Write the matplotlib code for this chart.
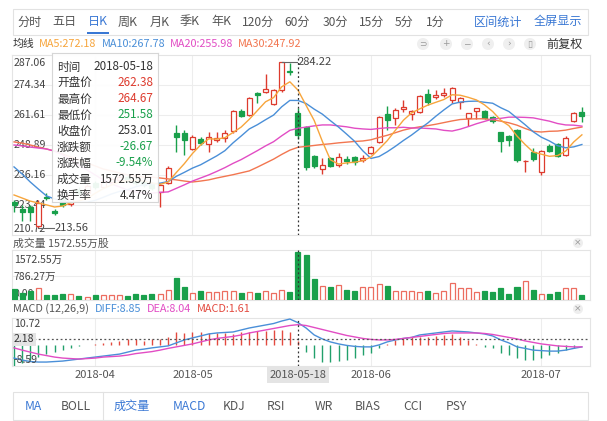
import matplotlib
matplotlib.use('Agg')
import matplotlib.pyplot as plt
from matplotlib.patches import Rectangle, Circle
import numpy as np

plt.rcParams['font.family'] = ['Noto Sans CJK SC', 'DejaVu Sans']

# 日K 数据
open_ = np.array([224.7, 221.8, 222.6, 214.5, 226.8, 220.9, 226.0, 223.8, 230.0, 228.6,
                  232.8, 231.0, 233.0, 234.0, 235.5, 234.2, 233.2, 232.5, 229.0, 232.8,
                  254.0, 254.0, 247.2, 251.4, 249.3, 251.0, 251.9, 254.8, 263.3, 261.6,
                  270.9, 271.4, 266.3, 272.2, 280.4, 262.38, 256.5, 244.2, 238.7, 243.4,
                  240.4, 243.0, 243.8, 242.5, 245.5, 250.2, 262.0, 260.3, 264.2, 262.0,
                  262.9, 270.5, 269.3, 270.1, 268.0, 267.1, 260.3, 263.3, 263.3, 260.8,
                  254.4, 252.7, 255.3, 241.9, 245.9, 237.4, 248.5, 249.3, 244.7, 259.1,
                  262.9])
high = np.array([225.6, 223.4, 223.4, 225.6, 228.5, 221.8, 227.0, 228.5, 231.2, 232.5,
                 233.5, 234.2, 235.5, 236.0, 236.3, 235.0, 234.0, 233.2, 232.8, 240.0,
                 257.4, 255.3, 253.1, 252.3, 254.4, 254.4, 255.3, 263.7, 264.2, 269.2,
                 271.4, 279.0, 272.6, 284.22, 283.7, 264.67, 256.8, 244.7, 243.4, 243.8,
                 245.5, 244.2, 244.2, 244.7, 248.5, 261.2, 265.4, 264.6, 268.0, 263.7,
                 270.1, 272.6, 272.2, 273.1, 273.5, 269.2, 262.5, 264.6, 263.7, 261.2,
                 254.4, 253.1, 255.7, 242.5, 247.6, 246.8, 249.3, 249.7, 252.7, 262.9,
                 265.0])
low = np.array([220.5, 216.7, 216.7, 213.56, 225.6, 219.2, 222.5, 223.0, 227.5, 228.0,
                230.3, 230.5, 232.4, 233.2, 233.0, 232.0, 231.0, 229.6, 222.6, 232.4,
                245.9, 244.7, 246.8, 248.9, 245.9, 250.2, 250.2, 254.0, 260.8, 261.2,
                266.7, 270.9, 265.9, 271.4, 278.6, 251.58, 238.3, 239.1, 236.6, 239.6,
                239.6, 240.8, 240.4, 241.7, 245.1, 249.7, 255.3, 257.4, 262.9, 259.5,
                262.5, 265.9, 268.4, 269.3, 266.7, 264.2, 257.0, 259.9, 259.9, 258.2,
                245.9, 248.5, 241.7, 237.4, 242.1, 236.2, 245.9, 243.8, 244.2, 258.7,
                258.7])
close_ = np.array([223.4, 220.5, 220.5, 224.3, 226.4, 220.1, 223.5, 227.5, 228.5, 231.5,
                   231.2, 233.5, 234.6, 235.2, 233.8, 232.6, 232.0, 230.5, 231.9, 239.1,
                   252.3, 251.0, 252.3, 249.7, 252.3, 251.9, 254.0, 263.3, 261.2, 268.8,
                   270.1, 272.6, 272.2, 284.1, 279.68, 253.01, 239.6, 240.0, 240.4, 240.0,
                   243.8, 242.1, 241.7, 243.4, 248.0, 260.8, 259.5, 263.7, 265.0, 263.3,
                   269.7, 267.1, 270.1, 270.9, 273.1, 268.8, 262.5, 264.6, 260.3, 259.1,
                   250.6, 251.0, 242.5, 242.3, 243.0, 246.3, 246.3, 244.2, 251.9, 262.5,
                   261.2])
# 成交量 (万股)
volume = np.array([360, 218, 295, 404, 164, 164, 186, 207, 131, 98,
                   153, 164, 164, 164, 142, 186, 164, 207, 186, 328,
                   710, 415, 218, 295, 273, 273, 306, 306, 218, 273,
                   218, 306, 218, 328, 273, 1572.55, 1474, 688, 470, 437,
                   491, 328, 295, 415, 415, 513, 470, 306, 306, 306,
                   251, 295, 218, 295, 546, 382, 382, 251, 295, 273,
                   382, 197, 415, 622, 328, 197, 197, 251, 382, 382,
                   164])
ma5 = [227.7, 226.4, 225.1, 224.3, 223.5, 222.6, 223.0, 224.4, 225.2, 226.2,
       228.4, 230.4, 231.9, 233.2, 233.7, 233.9, 233.6, 232.8, 232.2, 233.2,
       237.2, 241.0, 245.3, 248.9, 251.5, 251.4, 252.0, 254.2, 256.5, 259.8,
       263.5, 267.2, 269.0, 273.6, 275.7, 272.18, 265.7, 259.3, 250.5, 242.6,
       240.8, 241.3, 241.6, 242.2, 243.8, 247.2, 250.7, 255.1, 259.4, 262.5,
       264.2, 265.8, 267.0, 268.2, 270.2, 270.0, 269.1, 268.0, 265.9, 263.1,
       259.4, 257.1, 252.7, 249.1, 245.9, 245.0, 244.1, 244.4, 246.3, 250.2,
       253.2]
ma10 = [239.6, 236.6, 233.2, 230.2, 227.3, 226.0, 225.2, 224.8, 224.6, 224.6,
        225.4, 226.7, 228.1, 229.2, 229.9, 231.2, 232.0, 232.3, 232.7, 233.4,
        235.6, 237.3, 239.1, 240.5, 242.4, 244.3, 246.5, 249.8, 252.7, 255.7,
        257.5, 259.6, 261.6, 265.1, 267.8, 267.78, 266.5, 264.1, 262.0, 259.2,
        256.5, 253.5, 250.4, 246.4, 243.2, 244.0, 246.0, 248.3, 250.8, 253.1,
        255.7, 258.2, 261.1, 263.8, 266.3, 267.1, 267.4, 267.5, 267.0, 266.6,
        264.7, 263.1, 260.3, 257.5, 254.5, 252.2, 250.6, 248.6, 247.7, 248.1,
        249.1]
ma20 = [248.9, 248.5, 248.0, 247.6, 247.2, 246.3, 244.7, 242.5, 240.4, 238.3,
        236.2, 234.1, 232.4, 231.1, 229.8, 229.0, 228.5, 228.5, 228.8, 229.0,
        230.5, 232.0, 233.6, 234.9, 236.2, 237.7, 239.3, 241.1, 242.7, 244.6,
        246.5, 248.5, 250.3, 252.8, 255.1, 255.98, 256.5, 257.0, 257.4, 257.4,
        257.0, 256.6, 256.0, 255.7, 255.5, 255.9, 256.2, 256.2, 256.4, 256.1,
        256.1, 255.9, 255.7, 255.1, 254.8, 255.6, 256.7, 257.9, 258.9, 259.9,
        260.2, 260.7, 260.7, 260.6, 260.4, 259.7, 259.0, 258.0, 257.4, 257.3,
        256.9]
ma30 = [250.2, 249.7, 248.9, 248.0, 247.2, 246.3, 245.1, 243.8, 242.5, 241.3,
        240.0, 238.7, 237.9, 237.0, 236.2, 235.8, 235.3, 235.3, 234.9, 234.5,
        234.1, 233.6, 233.2, 233.6, 234.1, 234.9, 235.6, 236.3, 237.1, 237.9,
        239.5, 241.2, 242.9, 244.9, 246.7, 247.92, 248.3, 248.7, 249.1, 249.4,
        249.8, 250.1, 250.4, 250.6, 251.1, 252.1, 253.0, 254.1, 255.2, 256.0,
        256.6, 257.1, 257.7, 258.4, 259.1, 259.7, 259.9, 260.0, 260.0, 259.6,
        259.0, 258.3, 257.3, 255.9, 254.7, 254.4, 254.7, 254.8, 255.2, 255.9,
        256.5]
diff = [-5.4, -6.2, -6.8, -7.0, -7.0, -6.8, -6.6, -6.2, -5.8, -5.4,
        -5.0, -4.6, -4.2, -3.8, -3.0, -2.2, -1.8, -1.3, -0.9, -0.5,
        0.7, 1.9, 2.7, 3.5, 4.3, 4.7, 4.9, 5.1, 5.9, 6.7,
        7.3, 7.9, 8.5, 9.5, 10.3, 8.85, 6.7, 3.9, 2.3, 1.1,
        0.3, -0.3, -0.7, -0.9, -0.9, -0.1, 1.1, 1.9, 2.5, 2.9,
        3.9, 4.3, 4.7, 5.1, 5.5, 5.3, 5.1, 4.7, 4.3, 3.5,
        1.9, 0.7, -0.9, -1.5, -2.2, -2.4, -2.6, -2.6, -2.2, -1.5,
        -0.9]
dea = [-1.3, -2.2, -3.0, -3.8, -4.4, -5.0, -5.4, -5.6, -5.8, -5.6,
       -5.4, -5.0, -4.8, -4.6, -4.2, -3.6, -3.2, -2.8, -2.2, -1.5,
       -0.9, -0.3, 0.3, 1.1, 1.9, 2.5, 2.9, 3.3, 3.9, 4.7,
       5.3, 5.9, 6.5, 7.1, 7.7, 8.04, 7.7, 6.9, 6.1, 5.3,
       4.5, 3.7, 3.1, 2.5, 2.1, 1.9, 1.9, 2.1, 2.5, 2.9,
       3.3, 3.7, 4.1, 4.5, 4.7, 4.7, 4.7, 4.7, 4.5, 4.1,
       3.5, 2.9, 2.3, 1.5, 0.9, 0.3, -0.1, -0.5, -0.7, -0.9,
       -0.9]
macd_bar = np.array([-8.59, -7.4, -6.2, -5.0, -3.8, -3.0, -2.2, -1.4, -0.6, -0.2,
                     0.3, 0.8, 1.2, 1.6, 2.1, 2.1, 1.6, 2.1, 2.1, 3.2,
                     5.1, 4.5, 5.1, 5.1, 4.5, 4.8, 4.5, 4.2, 5.1, 5.1,
                     5.6, 5.6, 5.9, 5.9, 5.1, 1.61, -2.9, -5.5, -6.9, -6.9,
                     -6.7, -6.2, -5.5, -4.2, -3.5, -1.5, 0.4, 1.9, 2.5, 2.9,
                     3.2, 3.2, 3.5, 3.9, 4.2, 2.9, 1.9, 0.3, -0.8, -1.5,
                     -3.5, -4.2, -5.5, -6.2, -6.2, -5.5, -4.2, -3.5, -2.2, -1.2,
                     -0.2])

price_levels = [287.06, 274.34, 261.61, 248.89, 236.16, 223.44, 210.72]
vol_levels = [1572.55, 786.27, 0.00]
macd_levels = [10.72, -8.59]
macd_cursor = 2.18
turnover = '4.47%'
date_idx = [10, 22, 35, 44, 65]
date_labels = ['2018-04', '2018-05', '2018-05-18', '2018-06', '2018-07']
sel = 35  # 十字光标所在日

n = len(close_)
idx = np.arange(n)
up = close_ >= open_

RED = '#dd3b2e'
GREEN = '#19a04b'
VRED = '#ec6d60'
BLUE = '#3a78d4'
C_MA5, C_MA10, C_MA20, C_MA30 = '#f7a53c', '#4a8fd8', '#e24dc4', '#f27650'
C_DIFF, C_DEA = '#4a8fd8', '#e24dc4'
GRID = '#ededed'
TXT = '#333333'
LAB = '#444444'

W, H = 607, 421
fig = plt.figure(figsize=(W / 100, H / 100), dpi=100)


def rect(x0, y0, x1, y1):
    return [x0 / W, 1 - y1 / H, (x1 - x0) / W, (y1 - y0) / H]


def style(a):
    a.set_xticks([])
    a.set_yticks([])
    a.set_xlim(-0.25, 71.0)
    for s in a.spines.values():
        s.set_color('#e4e4e4')
        s.set_linewidth(0.8)


def crosshair(a):
    a.axvline(sel, color='#333333', ls=(0, (1.5, 2)), lw=0.9, zorder=8)


def edge_label(a, v, s, va, dy=0, **kw):
    # 刻度文字画在图内左侧, 上下两端往里挪几个像素
    a.annotate(s, (0.003, v), xycoords=a.get_yaxis_transform(), xytext=(0, dy),
               textcoords='offset points', va=va, ha='left', fontsize=7.6, color=LAB, **kw)


grid_idx = [d for d in date_idx if d != sel]

# K线主图
ax = fig.add_axes(rect(12, 55, 590, 235))
style(ax)
ax.set_ylim(price_levels[-1], price_levels[0])
for lv in price_levels[1:-1]:
    ax.axhline(lv, color=GRID, lw=0.8, zorder=0)
for g in grid_idx:
    ax.axvline(g, color=GRID, lw=0.8, zorder=0)
for k, lv in enumerate(price_levels):
    if k == 0:
        edge_label(ax, lv, f'{lv:.2f}', 'top', dy=-2, zorder=1)
    elif k == len(price_levels) - 1:
        edge_label(ax, lv, f'{lv:.2f}', 'bottom', dy=1, zorder=1)
    else:
        edge_label(ax, lv, f'{lv:.2f}', 'center', zorder=1)

cols = [RED if u else GREEN for u in up]
ax.vlines(idx, low, high, colors=cols, lw=1, zorder=3)
body = np.maximum(np.abs(close_ - open_), 0.2)
ax.bar(idx, body, bottom=np.minimum(open_, close_), width=0.62,
       color=['white' if u else GREEN for u in up], edgecolor=cols, lw=0.9, zorder=4)
for ma, c in [(ma30, C_MA30), (ma20, C_MA20), (ma10, C_MA10), (ma5, C_MA5)]:
    ax.plot(idx, ma, color=c, lw=1.0, zorder=5)

imax = int(np.argmax(high))
imin = int(np.argmin(low))
ax.plot([imax, imax + 1.9], [high[imax]] * 2, color='#666666', lw=0.8, zorder=6)
ax.text(imax + 2.0, high[imax], f'{high[imax]:.2f}', va='center', ha='left', fontsize=8, color=LAB, zorder=6)
ax.plot([imin, imin + 1.9], [low[imin]] * 2, color='#666666', lw=0.8, zorder=6)
ax.text(imin + 2.0, low[imin], f'{low[imin]:.2f}', va='center', ha='left', fontsize=8, color=LAB, zorder=6)
crosshair(ax)

# 成交量
axv = fig.add_axes(rect(12, 250, 590, 300))
style(axv)
axv.set_ylim(0, vol_levels[0] * 50 / 48)
axv.axhline(vol_levels[1], color=GRID, lw=0.8, zorder=0)
for g in grid_idx:
    axv.axvline(g, color=GRID, lw=0.8, zorder=0)
axv.bar(idx, volume, width=0.62, color=['white' if u else GREEN for u in up],
        edgecolor=[VRED if u else GREEN for u in up], lw=0.9, zorder=3)
edge_label(axv, vol_levels[0], f'{vol_levels[0]:.2f}万', 'top', dy=-2, zorder=1)
edge_label(axv, vol_levels[1], f'{vol_levels[1]:.2f}万', 'center', dy=-1, zorder=1)
edge_label(axv, vol_levels[2], f'{vol_levels[2]:.2f}', 'bottom', dy=1, zorder=1)
crosshair(axv)

# MACD
axm = fig.add_axes(rect(12, 318, 590, 366))
style(axm)
axm.set_ylim(macd_levels[1], macd_levels[0])
for g in grid_idx:
    axm.axvline(g, color=GRID, lw=0.8, zorder=0)
axm.vlines(idx, 0, macd_bar, colors=['#e34a3f' if v >= 0 else '#22a06b' for v in macd_bar], lw=1.0, zorder=3)
axm.plot(idx, diff, color=C_DIFF, lw=1.0, zorder=4)
axm.plot(idx, dea, color=C_DEA, lw=1.0, zorder=4)
axm.axhline(macd_cursor, color='#555555', ls=(0, (1.5, 2)), lw=0.9, zorder=5)
edge_label(axm, macd_levels[0], f'{macd_levels[0]:.2f}', 'top', dy=-1, zorder=6)
edge_label(axm, macd_levels[1], f'{macd_levels[1]:.2f}', 'bottom', dy=1, zorder=6)
axm.text(0.003, macd_cursor, f'{macd_cursor:.2f}', transform=axm.get_yaxis_transform(),
         va='center', ha='left', fontsize=7.6, color=TXT, zorder=7,
         bbox=dict(boxstyle='square,pad=0.15', fc='#e4e4e4', ec='none'))
crosshair(axm)
for d, lab in zip(date_idx, date_labels):
    bb = dict(boxstyle='square,pad=0.25', fc='#e4e4e4', ec='none') if d == sel else None
    axm.text(d, -0.19, lab, transform=axm.get_xaxis_transform(), ha='center', va='center',
             fontsize=8, color='#555555', bbox=bb, clip_on=False)

# 悬浮信息框
tip = fig.add_axes(rect(52, 53, 158, 202))
tip.set_zorder(10)
tip.set_xlim(52, 158)
tip.set_ylim(202, 53)
tip.set_xticks([])
tip.set_yticks([])
tip.patch.set_facecolor('white')
tip.patch.set_alpha(0.93)
for s in tip.spines.values():
    s.set_color('#d6d6d6')
    s.set_linewidth(0.8)
chg = close_[sel] - close_[sel - 1]
pct = chg / close_[sel - 1] * 100
tip_rows = [
    ('时间', date_labels[2], TXT),
    ('开盘价', f'{open_[sel]:.2f}', RED),
    ('最高价', f'{high[sel]:.2f}', RED),
    ('最低价', f'{low[sel]:.2f}', GREEN),
    ('收盘价', f'{close_[sel]:.2f}', TXT),
    ('涨跌额', f'{chg:.2f}', GREEN),
    ('涨跌幅', f'{pct:.2f}%', GREEN),
    ('成交量', f'{volume[sel]:.2f}万', TXT),
    ('换手率', turnover, TXT),
]
for k, (lab, val, c) in enumerate(tip_rows):
    y = 67 + 16 * k
    tip.text(57, y, lab, ha='left', va='center', fontsize=8.4, color=TXT)
    tip.text(153, y, val, ha='right', va='center', fontsize=8.4, color=c)

# 页面元素 (像素坐标)
ov = fig.add_axes([0, 0, 1, 1])
ov.set_xlim(0, W)
ov.set_ylim(H, 0)
ov.axis('off')
ov.set_zorder(20)

ov.add_patch(Rectangle((12.5, 9), 575, 26, fill=False, ec='#e2e2e2', lw=0.8))
top_tabs = ['分时', '五日', '日K', '周K', '月K', '季K', '年K', '120分', '60分', '30分', '15分', '5分', '1分']
top_tab_x = [30, 64, 98, 128, 160, 190, 221, 258, 297, 335, 372, 404, 435]
for name, x in zip(top_tabs, top_tab_x):
    ov.text(x, 22, name, ha='center', va='center', fontsize=8.7, color=BLUE if name == '日K' else '#555555')
ov.add_patch(Rectangle((87, 32), 22, 2.2, fc=BLUE, ec='none'))
ov.text(498, 22, '区间统计', ha='center', va='center', fontsize=8.7, color=BLUE)
ov.text(558, 22, '全屏显示', ha='center', va='center', fontsize=8.7, color=BLUE)

ov.text(13, 44, '均线', ha='left', va='center', fontsize=7.8, color=TXT)
for x, lab, v, c in [(39, 'MA5', ma5[sel], C_MA5), (102, 'MA10', ma10[sel], C_MA10),
                     (170, 'MA20', ma20[sel], C_MA20), (238, 'MA30', ma30[sel], C_MA30)]:
    ov.text(x, 44, f'{lab}:{v:.2f}', ha='left', va='center', fontsize=7.8, color=c)
for x, sym in zip([423, 446, 467, 488, 509, 530], ['⊃', '+', '−', '‹', '›', '▯']):
    ov.add_patch(Circle((x, 44), 6, fc='#efefef', ec='none'))
    ov.text(x, 44, sym, ha='center', va='center', fontsize=6.5, color='#9a9a9a', family=['DejaVu Sans'])
ov.text(565, 44, '前复权', ha='center', va='center', fontsize=8.7, color=TXT)

ov.text(13, 244, f'成交量 {volume[sel]:.2f}万股', ha='left', va='center', fontsize=7.8, color='#555555')
ov.text(13, 309, 'MACD (12,26,9)', ha='left', va='center', fontsize=7.8, color='#555555')
ov.text(95, 309, f'DIFF:{diff[sel]:.2f}', ha='left', va='center', fontsize=7.8, color=C_DIFF)
ov.text(147, 309, f'DEA:{dea[sel]:.2f}', ha='left', va='center', fontsize=7.8, color=C_DEA)
ov.text(197, 309, f'MACD:{macd_bar[sel]:.2f}', ha='left', va='center', fontsize=7.8, color='#e34a3f')
for y in [243, 309]:
    ov.add_patch(Circle((578, y), 5, fc='#eeeeee', ec='none'))
    ov.text(578, y, '×', ha='center', va='center', fontsize=6.5, color='#999999', family=['DejaVu Sans'])

ov.add_patch(Rectangle((13, 392), 575, 28, fill=False, ec='#e2e2e2', lw=0.8))
ov.plot([103, 103], [392, 420], color='#e2e2e2', lw=0.8)
bottom_tabs = ['MA', 'BOLL', '成交量', 'MACD', 'KDJ', 'RSI', 'WR', 'BIAS', 'CCI', 'PSY']
bottom_tab_x = [33, 76, 132, 189, 234, 276, 324, 368, 413, 456]
active = ['MA', '成交量', 'MACD']
for name, x in zip(bottom_tabs, bottom_tab_x):
    ov.text(x, 406, name, ha='center', va='center', fontsize=8.7,
            color=BLUE if name in active else '#555555')

fig.savefig('out.png', dpi=100)
